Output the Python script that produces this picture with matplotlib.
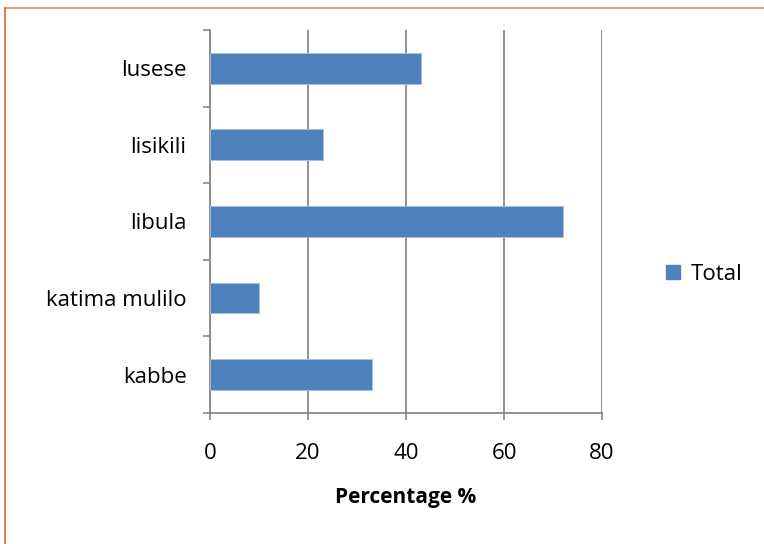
import numpy as np
import matplotlib.pyplot as plt
from matplotlib.lines import Line2D

categories = ['kabbe', 'katima mulilo', 'libula', 'lisikili', 'lusese']
totals = [33, 10, 72, 23, 43]
xticks = [0, 20, 40, 60, 80]

plt.rcParams['font.family'] = ['Open Sans', 'DejaVu Sans']

fig = plt.figure(figsize=(7.64, 5.44), dpi=100)
ax = fig.add_axes([0.275, 0.241, 0.513, 0.704])

y = np.arange(len(categories))
ax.barh(y, totals, height=0.4, color='#4F81BD', edgecolor='#A7C0DE', linewidth=0.6,
        label='Total', zorder=3)

ax.set_xlim(0, 80)
ax.set_ylim(-0.5, len(categories) - 0.5)
ax.set_xticks(xticks)
ax.set_yticks(y)
ax.set_yticklabels(categories, fontsize=16)
ax.set_yticks(np.arange(-0.5, len(categories), 1), minor=True)
ax.tick_params(axis='y', which='major', length=0, pad=17)
ax.tick_params(axis='y', which='minor', length=5, width=1.2, color='#888888')
ax.tick_params(axis='x', length=5, width=1.2, color='#888888', labelsize=16, pad=17)
ax.xaxis.grid(True, color='#888888', linewidth=1.3, zorder=0)

for s in ['top', 'right']:
    ax.spines[s].set_visible(False)
for s in ['left', 'bottom']:
    ax.spines[s].set_color('#888888')
    ax.spines[s].set_linewidth(1.3)

ax.set_xlabel('Percentage %', fontsize=15, fontweight='bold', labelpad=16)

handle = Line2D([], [], marker='s', linestyle='none', markersize=10,
                markerfacecolor='#4F81BD', markeredgecolor='#4F81BD')
fig.legend([handle], ['Total'], loc='center left', bbox_to_anchor=(0.852, 0.495),
           frameon=False, fontsize=16, handletextpad=0.2, handlelength=1.2,
           borderaxespad=0)

# outer frame border (top and left visible)
fig.add_artist(Line2D([0.007, 1.0], [0.985, 0.985], transform=fig.transFigure,
                      color='#E0A580', linewidth=1.5))
fig.add_artist(Line2D([0.007, 0.007], [0.0, 0.985], transform=fig.transFigure,
                      color='#D0702A', linewidth=1.2))

fig.savefig('out.png', dpi=100)
